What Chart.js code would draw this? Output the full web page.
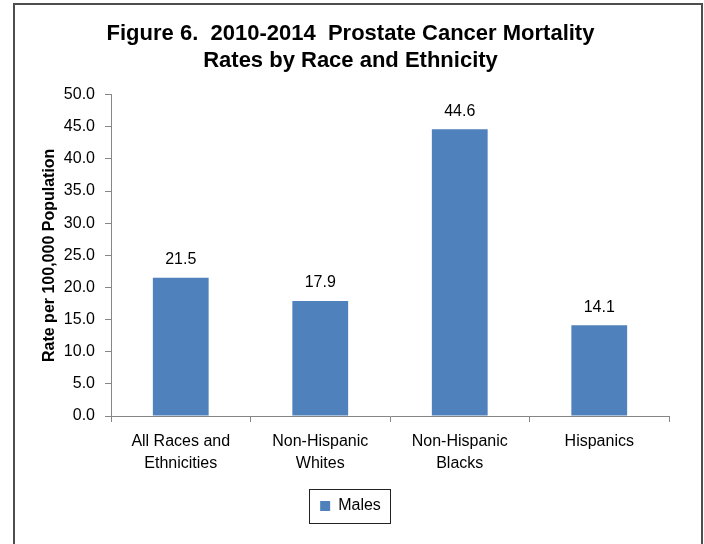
<!DOCTYPE html>
<html>
<head>
<meta charset="utf-8">
<script src="https://cdn.jsdelivr.net/npm/chart.js@4.4.1/dist/chart.umd.min.js"></script>
<style>
  html, body { margin: 0; padding: 0; background: #fff; }
  canvas { display: block; }
</style>
</head>
<body>
<canvas id="mortChart" width="704" height="544"></canvas>
<script>
// --- data ---
const TITLE_LINES = ['Figure 6.  2010-2014  Prostate Cancer Mortality', 'Rates by Race and Ethnicity'];
const GROUPS = [
    ['All Races and', 'Ethnicities'],
    ['Non-Hispanic', 'Whites'],
    ['Non-Hispanic', 'Blacks'],
    ['Hispanics']
];
const MALE_RATES = [21.5, 17.9, 44.6, 14.1];
const SERIES_NAME = 'Males';
const Y_TITLE = 'Rate per 100,000 Population';

const FONT = "'Liberation Sans', Arial, sans-serif";
const BAR_BLUE = '#4F81BD';
const AXIS_GREY = '#868686';

// outer frame of the figure + box around the legend
const framePlugin = {
    id: 'frame',
    afterDraw(chart) {
        const ctx = chart.ctx;
        ctx.save();
        ctx.strokeStyle = '#4d4d4d';
        ctx.lineWidth = 2;
        ctx.strokeRect(14, 4, 688, 560);

        const hb = chart.legend.legendHitBoxes[0];
        if (hb) {
            ctx.strokeStyle = '#222';
            ctx.lineWidth = 1;
            ctx.strokeRect(Math.round(hb.left - 11) + 0.5, Math.round(hb.top - 9) + 0.5,
                Math.round(hb.width + 20), Math.round(hb.height + 18));
        }
        ctx.restore();
    }
};

// value labels above each bar
const valueLabels = {
    id: 'valueLabels',
    afterDatasetsDraw(chart) {
        const ctx = chart.ctx;
        const meta = chart.getDatasetMeta(0);
        ctx.save();
        ctx.font = '16px ' + FONT;
        ctx.fillStyle = '#000';
        ctx.textAlign = 'center';
        ctx.textBaseline = 'middle';
        meta.data.forEach((bar, i) => {
            ctx.fillText(MALE_RATES[i].toFixed(1), bar.x, bar.y - 18);
        });
        ctx.restore();
    }
};

new Chart(document.getElementById('mortChart'), {
    type: 'bar',
    data: {
        labels: GROUPS,
        datasets: [{
            label: SERIES_NAME,
            data: MALE_RATES,
            backgroundColor: BAR_BLUE,
            borderWidth: 0,
            barPercentage: 0.4,
            categoryPercentage: 1.0
        }]
    },
    options: {
        responsive: false,
        animation: false,
        devicePixelRatio: 1,
        layout: { padding: { left: 32, right: 35, top: 0, bottom: 20 } },
        plugins: {
            title: {
                display: true,
                text: TITLE_LINES,
                color: '#000',
                font: { family: FONT, size: 22, weight: 'bold', lineHeight: 1.23 },
                padding: { top: 20.5, bottom: 20 }
            },
            legend: {
                position: 'bottom',
                labels: {
                    color: '#000',
                    font: { family: FONT, size: 16 },
                    boxWidth: 10,
                    boxHeight: 10,
                    padding: 10
                }
            },
            tooltip: { enabled: false }
        },
        scales: {
            x: {
                grid: {
                    offset: true,
                    drawOnChartArea: false,
                    drawTicks: true,
                    tickLength: 6,
                    color: AXIS_GREY
                },
                border: { display: true, color: AXIS_GREY, width: 1 },
                ticks: {
                    color: '#000',
                    font: { family: FONT, size: 16, lineHeight: 1.375 },
                    padding: 9,
                    maxRotation: 0,
                    autoSkip: false
                },
                afterFit(scale) { scale.height = 72; }
            },
            y: {
                min: 0,
                max: 50,
                grid: {
                    drawOnChartArea: false,
                    drawTicks: true,
                    tickLength: 6,
                    color: AXIS_GREY
                },
                border: { display: true, color: AXIS_GREY, width: 1 },
                ticks: {
                    stepSize: 5,
                    color: '#000',
                    font: { family: FONT, size: 16 },
                    padding: 10,
                    callback: v => v.toFixed(1)
                },
                title: {
                    display: true,
                    text: Y_TITLE,
                    color: '#000',
                    font: { family: FONT, size: 16, weight: 'bold', lineHeight: 1.2 },
                    padding: { top: 8, bottom: 0 }
                },
                afterFit(scale) { scale.width = 79; }
            }
        }
    },
    plugins: [framePlugin, valueLabels]
});
</script>
</body>
</html>
